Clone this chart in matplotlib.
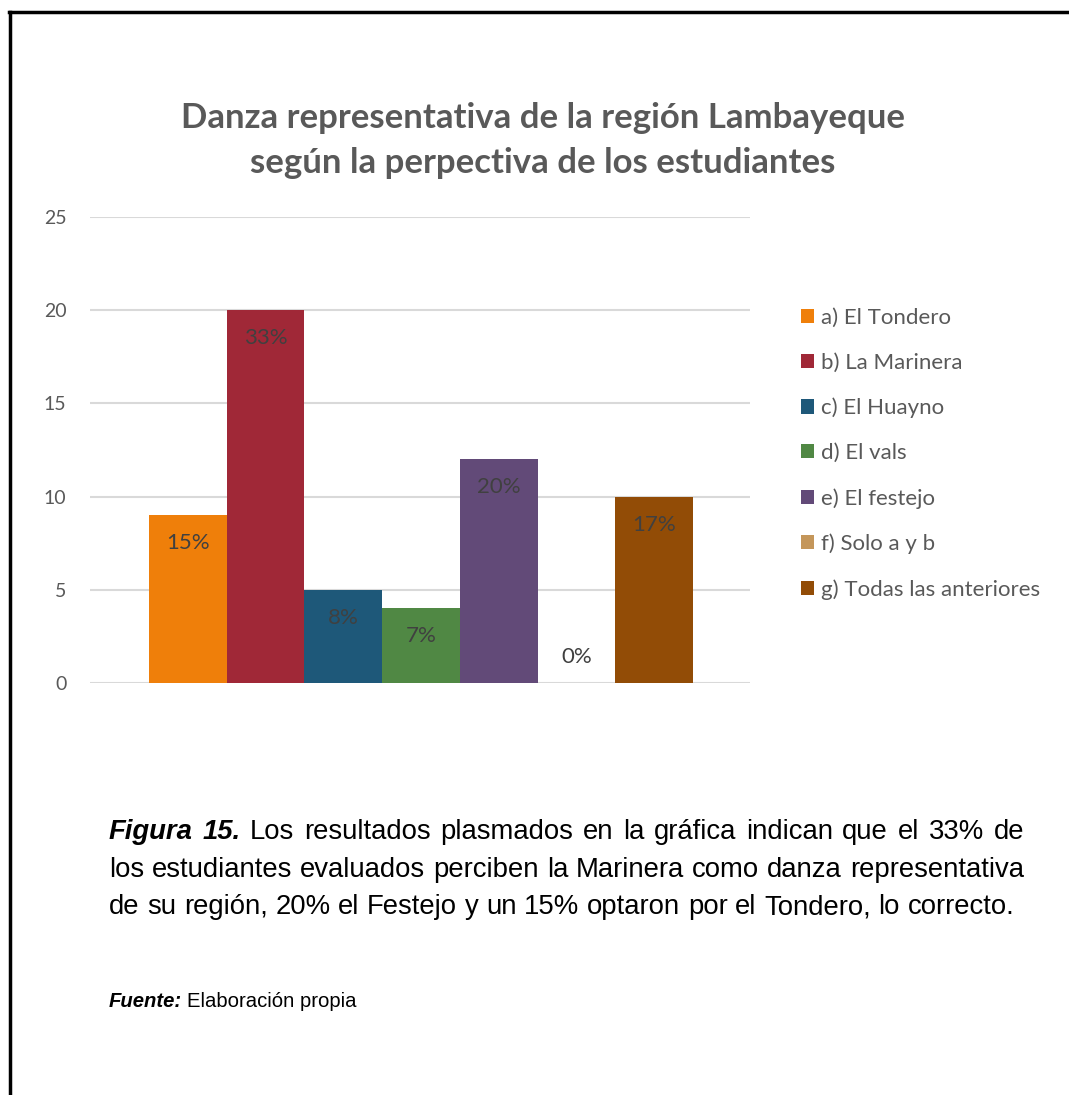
import matplotlib
matplotlib.use("Agg")
import matplotlib.pyplot as plt
from matplotlib.lines import Line2D
from matplotlib.patches import Patch

categories = ["a) El Tondero", "b) La Marinera", "c) El Huayno", "d) El vals",
              "e) El festejo", "f) Solo a y b", "g) Todas las anteriores"]
values = [9, 20, 5, 4, 12, 0, 10]
pct_labels = ["15%", "33%", "8%", "7%", "20%", "0%", "17%"]
colors = ["#ef7f0a", "#a02837", "#1e5879", "#508844", "#624a78", "#c4965a", "#924c06"]
yticks = [0, 5, 10, 15, 20, 25]

W, H = 1069, 1095
fig = plt.figure(figsize=(W / 100, H / 100), dpi=100)
fig.patch.set_facecolor("white")

FONT = ["Lato", "DejaVu Sans"]
GRAY = "#595959"

# frame lines (left and top)
fig.add_artist(Line2D([9.5 / W, 9.5 / W], [0, 1 - 11.5 / H], transform=fig.transFigure,
                      color="black", lw=2.5))
fig.add_artist(Line2D([8.5 / W, 1], [1 - 11.5 / H, 1 - 11.5 / H], transform=fig.transFigure,
                      color="black", lw=2.5))

ax = fig.add_axes([90 / W, 1 - 683 / H, 660 / W, 466 / H])
x = list(range(len(values)))
bars = ax.bar(x, values, width=1.0, color=colors, zorder=3)
ax.set_ylim(0, 25)
ax.set_xlim(-0.5 - 59 / 77.7, 6.5 + 57 / 77.7)
ax.set_yticks(yticks)
ax.set_yticklabels([str(t) for t in yticks], fontsize=14, color=GRAY, family=FONT)
ax.tick_params(axis="y", length=0, pad=17)
ax.set_xticks([])
for s in ax.spines.values():
    s.set_visible(False)
ax.yaxis.grid(True, color="#d9d9d9", lw=1.5, zorder=0)

for xi, v, lab in zip(x, values, pct_labels):
    if v > 0:
        ax.text(xi, v - 1.5, lab, ha="center", va="center", fontsize=16, color="#404040",
                family=FONT, zorder=4)
    else:
        ax.text(xi, 1.4, lab, ha="center", va="center", fontsize=16, color="#404040",
                family=FONT, zorder=4)

# title
fig.text(543 / W, 1 - 118 / H, "Danza representativa de la región Lambayeque",
         ha="center", va="center", fontsize=25, fontweight="bold", color=GRAY, family=FONT)
fig.text(543 / W, 1 - 163 / H, "según la perpectiva de los estudiantes",
         ha="center", va="center", fontsize=25, fontweight="bold", color=GRAY, family=FONT)

# legend
handles = [Patch(facecolor=c, edgecolor="none") for c in colors]
leg = fig.legend(handles, categories, loc="upper left",
                 bbox_to_anchor=(781 / W, 1 - 288 / H), frameon=False,
                 prop={"family": FONT, "size": 16}, handlelength=0.6, handleheight=0.6,
                 handletextpad=0.3, labelspacing=1.12, labelcolor=GRAY)

# caption (justified lines built word by word)
CAP = ["Liberation Sans", "DejaVu Sans"]
CS = 19.8
renderer = fig.canvas.get_renderer()


def place_line(words, y, x0, x1, justify):
    """words: list of (text, bold_italic); y is the baseline in pixels from top"""
    arts = []
    for w, bi in words:
        kw = dict(fontweight="bold", style="italic") if bi else {}
        a = fig.text(0, 1 - y / H, w, ha="left", va="baseline", fontsize=CS,
                     family=CAP, color="black", **kw)
        arts.append(a)
    widths = [a.get_window_extent(renderer).width for a in arts]
    sp = fig.text(0, 0, "a a", fontsize=CS, family=CAP)
    sp2 = fig.text(0, 0, "aa", fontsize=CS, family=CAP)
    space = sp.get_window_extent(renderer).width - sp2.get_window_extent(renderer).width
    sp.remove()
    sp2.remove()
    if justify and len(arts) > 1:
        gap = (x1 - x0 - sum(widths)) / (len(arts) - 1)
    else:
        gap = space
    cx = x0
    for a, wd in zip(arts, widths):
        a.set_x(cx / W)
        cx += wd + gap


line1 = [("Figura", True), ("15.", True)] + [(w, False) for w in
         "Los resultados plasmados en la gráfica indican que el 33% de".split()]
line2 = [(w, False) for w in
         "los estudiantes evaluados perciben la Marinera como danza representativa".split()]
line3 = [(w, False) for w in
         "de su región, 20% el Festejo y un 15% optaron por el Tondero, lo correcto.".split()]
place_line(line1, 839, 109, 1024, True)
place_line(line2, 877, 109, 1024, True)
place_line(line3, 914, 109, 1024, False)

y4 = 1 - 1007 / H
t2 = fig.text(109 / W, y4, "Fuente:", ha="left", va="baseline", fontsize=14.6,
              fontweight="bold", style="italic", family=CAP, color="black")
bb2 = t2.get_window_extent(renderer)
fig.text(bb2.x1 / W + 5 / W, y4, "Elaboración propia", ha="left", va="baseline",
         fontsize=14.6, family=CAP, color="black")

fig.savefig("out.png", dpi=100, facecolor="white")
